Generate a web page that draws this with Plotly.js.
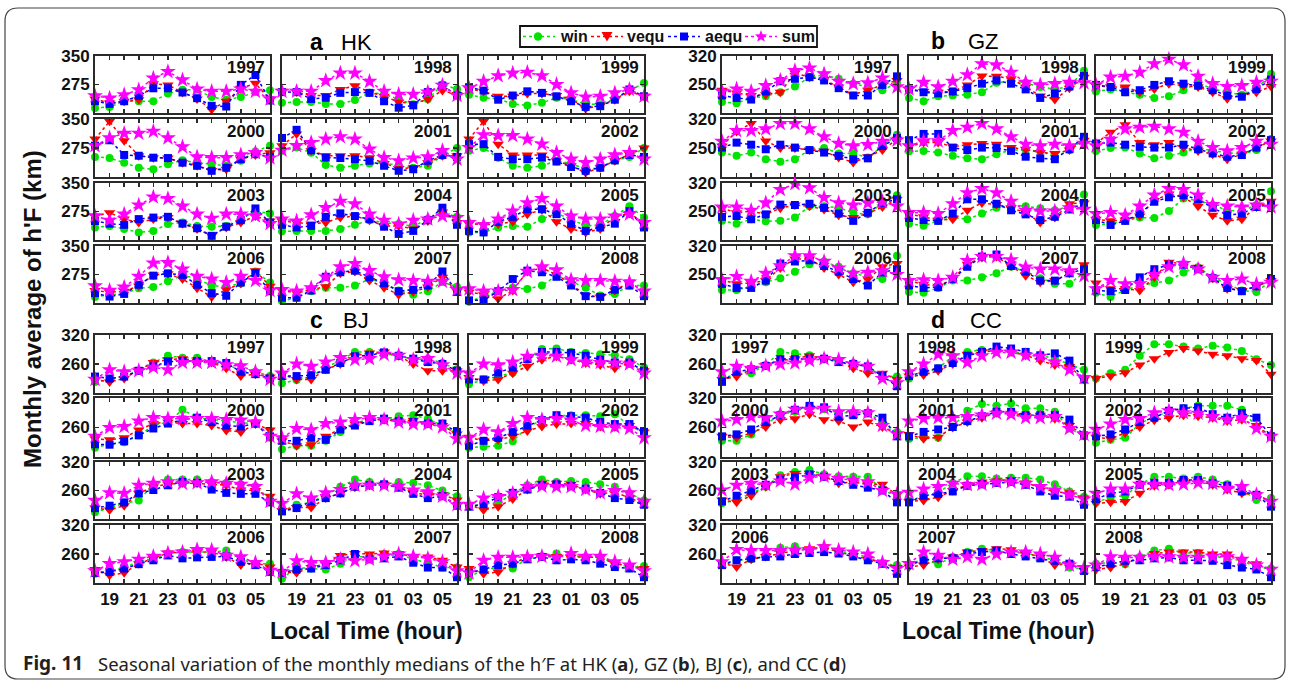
<!DOCTYPE html>
<html><head><meta charset="utf-8">
<script src="https://cdn.plot.ly/plotly-3.0.1.min.js"></script>
<style>html,body{margin:0;padding:0;background:#fff}#chart{width:1290px;height:680px}</style>
</head><body><div id="chart"></div>
<script>
// ---------------- DATA ----------------
const hours = [18,19,20,21,22,23,24,25,26,27,28,29,30];   // 18 LT ... 06 LT next day
const hourTickVals = [19,21,23,25,27,29];
const hourTickText = ['19','21','23','01','03','05'];
const years = [1997,1998,1999,2000,2001,2002,2003,2004,2005,2006,2007,2008];
const seasonNames = ['win','vequ','aequ','sum'];

// HK (a)
const HK_win = [
[213,216,231,231,231,251,261,261,242,235,242,255,260],
[227,229,229,224,224,234,253,250,236,223,236,275,263],
[248,240,237,224,220,227,240,236,223,223,237,259,279],
[252,249,237,224,220,233,243,237,233,229,242,266,281],
[268,276,263,231,224,229,235,237,229,224,229,255,275],
[268,275,250,229,224,229,242,235,220,224,242,252,275],
[233,237,229,220,224,242,246,237,235,237,255,276,270],
[223,224,224,224,229,240,252,246,242,237,255,272,261],
[220,220,233,237,235,255,270,255,237,240,263,289,259],
[216,222,224,239,242,257,272,265,245,244,251,283,254],
[205,214,231,240,240,246,263,252,233,222,231,255,243],
[203,218,231,240,237,246,272,257,240,220,224,246,246]];
const HK_vequ = [
[237,226,231,235,277,274,254,237,209,231,265,278,235],
[257,255,246,246,262,272,255,244,229,225,236,259,249],
[263,257,244,244,251,251,246,237,211,220,235,257,244],
[298,344,294,255,250,249,237,229,217,220,246,257,263],
[281,311,268,255,255,255,250,235,222,224,237,255,255],
[298,344,285,257,257,257,242,229,211,224,242,259,275],
[263,272,255,246,255,259,243,229,211,233,246,263,250],
[250,246,242,246,259,263,252,237,237,229,250,274,246],
[243,240,242,248,268,279,248,229,220,229,261,270,246],
[233,228,231,245,274,277,263,239,216,235,251,285,244],
[233,226,235,243,278,283,259,240,222,229,242,268,231],
[229,222,211,233,283,292,275,250,220,216,233,255,229]];
const HK_aequ = [
[231,224,231,245,265,265,254,239,219,217,274,300,233],
[255,255,237,240,253,255,253,231,214,220,255,272,246],
[268,259,235,246,257,253,244,231,216,218,235,262,244],
[281,295,257,255,250,249,237,229,216,224,246,259,252],
[301,322,269,250,249,246,242,229,216,220,242,257,252],
[285,285,252,246,246,250,240,226,216,224,243,257,252],
[250,243,240,255,259,261,243,231,211,235,252,283,246],
[240,233,237,261,270,263,255,235,216,224,252,285,240],
[224,220,248,261,281,281,268,243,224,233,243,276,233],
[226,217,224,248,272,278,274,248,226,219,254,278,231],
[214,214,233,269,281,285,268,252,231,235,246,283,229],
[207,207,231,263,285,281,269,246,218,216,235,246,218]];
const HK_sum = [
[245,239,248,261,292,309,287,263,257,257,263,257,237],
[257,257,257,285,305,305,283,257,249,249,255,273,246],
[266,283,298,305,307,298,275,253,242,244,253,262,244],
[281,301,313,313,318,301,278,252,250,250,257,263,249],
[269,281,289,298,304,298,272,250,242,249,252,268,246],
[276,309,307,307,298,285,263,246,237,246,257,263,246],
[263,252,268,292,313,309,289,268,257,268,268,263,243],
[255,250,266,285,302,295,268,252,242,252,255,263,259],
[246,240,255,276,298,309,289,263,255,255,263,268,246],
[245,233,242,270,305,306,289,270,263,254,270,259,233],
[235,231,240,268,295,304,285,269,261,259,257,257,235],
[237,231,231,235,283,295,287,261,259,259,257,255,231]];

// GZ (b)
const GZ_win = [
[207,204,217,221,231,245,268,274,264,252,244,236,254],
[217,209,221,223,225,231,254,260,254,244,239,245,284],
[233,238,231,225,217,221,236,254,239,231,225,239,276],
[239,231,239,223,217,223,245,250,237,237,227,255,282],
[242,243,239,231,225,223,235,245,245,243,229,245,272],
[243,250,251,237,225,231,239,251,243,239,235,245,272],
[227,220,231,226,227,235,263,263,259,247,243,271,290],
[220,215,227,235,231,245,259,267,263,258,253,263,292],
[217,220,227,235,234,251,282,277,266,253,251,266,300],
[212,212,221,231,241,257,275,282,269,253,245,239,296],
[207,205,217,235,235,243,253,269,257,241,227,227,255],
[205,195,212,223,229,235,255,268,243,226,211,207,235]];
const GZ_vequ = [
[236,229,223,225,231,278,268,262,244,225,236,249,260],
[239,233,231,233,249,271,270,264,244,222,213,241,268],
[247,244,244,231,239,252,247,244,231,215,223,231,245],
[255,290,309,267,250,250,245,242,227,215,229,245,271],
[253,263,263,253,258,261,259,251,247,239,237,245,269],
[261,288,306,263,258,263,251,243,235,223,235,251,267],
[258,247,251,243,258,266,263,255,241,235,245,261,280],
[243,237,229,231,253,271,267,259,247,223,235,269,271],
[231,227,229,239,277,293,285,263,241,227,231,261,275],
[237,227,229,235,266,288,288,266,250,231,239,269,277],
[234,226,221,239,275,292,294,271,247,231,235,253,274],
[229,215,215,211,243,280,277,268,241,215,211,221,235]];
const GZ_aequ = [
[223,217,213,233,258,264,268,260,241,223,223,249,270],
[238,231,228,233,241,252,260,252,238,217,228,245,271],
[249,244,231,236,249,258,252,247,236,223,220,239,262],
[251,263,258,247,258,251,245,239,231,223,225,255,274],
[269,284,284,251,245,251,250,243,229,225,223,247,277],
[261,263,258,253,251,251,258,247,237,229,233,251,269],
[237,239,231,243,267,266,269,259,245,227,247,271,280],
[234,229,227,245,280,280,269,253,243,229,237,255,271],
[229,217,227,245,274,285,290,280,259,241,245,261,267],
[227,217,217,235,277,282,285,271,257,239,223,255,263],
[223,217,219,239,269,294,299,271,257,235,235,253,263],
[211,209,212,243,263,274,274,263,241,217,209,221,239]];
const GZ_sum = [
[233,239,233,247,260,284,290,276,258,252,254,266,244],
[239,255,244,258,274,301,298,280,255,249,252,255,254],
[249,268,270,280,301,312,298,270,252,245,247,255,258],
[266,292,292,296,309,309,296,277,261,255,258,266,269],
[255,267,267,292,300,309,296,277,259,255,259,255,261],
[255,271,296,300,302,296,288,266,251,243,251,266,259],
[261,261,253,271,304,318,308,284,271,266,271,274,263],
[247,247,245,269,296,306,296,275,253,251,251,259,255],
[245,247,241,263,290,306,304,290,267,263,261,266,261],
[237,245,233,253,271,296,296,282,266,253,255,259,250],
[235,237,235,243,284,294,294,286,268,263,263,259,247],
[215,235,227,227,250,269,277,263,243,235,239,226,231]];

// BJ (c)
const BJ_win = [
[223,228,235,246,263,277,273,273,265,260,246,244,235],
[220,227,234,253,267,285,285,280,278,269,271,262,249],
[218,228,234,242,269,291,292,285,283,280,278,270,253],
[219,226,230,244,264,271,296,280,276,273,269,267,239],
[216,223,223,233,251,268,278,276,283,285,278,264,247],
[219,221,223,232,261,275,283,285,285,283,287,264,249],
[214,223,233,239,273,283,283,283,278,276,273,269,240],
[217,230,235,251,268,283,278,273,278,276,271,260,248],
[226,233,233,254,271,283,278,280,278,273,268,254,239],
[219,225,232,244,251,261,264,264,264,267,249,240,240],
[209,232,230,228,240,254,255,260,260,249,242,232,232],
[212,228,232,230,251,255,261,255,254,253,240,233,235]];
const BJ_vequ = [
[228,223,230,248,263,269,271,266,263,251,235,239,233],
[239,228,228,249,260,277,283,285,277,260,246,246,246],
[232,225,228,241,255,269,276,269,262,258,251,262,246],
[237,235,239,255,268,271,268,268,264,254,251,267,255],
[233,223,225,242,258,267,275,276,273,275,268,264,247],
[240,233,235,242,253,262,267,268,268,262,261,264,251],
[223,219,228,254,268,273,276,275,273,271,261,260,248],
[218,224,224,244,254,267,271,273,268,255,251,251,240],
[230,219,226,242,262,275,275,273,262,253,257,244,233],
[228,216,221,240,251,262,264,264,264,254,237,242,233],
[223,221,232,240,257,261,260,262,261,254,254,247,233],
[230,219,223,240,254,257,255,254,254,253,240,235,230]];
const BJ_aequ = [
[234,230,234,246,255,265,266,266,266,262,244,239,230],
[235,235,237,248,262,276,278,284,277,271,264,260,246],
[228,228,242,253,270,285,285,283,277,269,263,263,246],
[226,225,232,244,258,268,276,280,271,264,262,268,242],
[233,233,239,235,256,264,273,278,273,271,268,268,251],
[223,233,239,251,264,275,285,283,280,271,267,267,251],
[223,228,235,254,261,271,278,276,262,255,253,253,235],
[216,223,237,244,254,268,271,273,266,253,244,248,228],
[226,231,246,255,262,271,273,269,264,255,244,240,230],
[221,223,230,239,247,257,251,253,254,255,244,237,223],
[221,228,230,237,247,260,249,251,255,242,232,232,212],
[221,228,237,240,249,254,247,249,247,240,233,230,212]];
const BJ_sum = [
[228,248,244,246,253,248,263,263,263,258,256,244,228],
[241,260,255,264,273,269,271,280,278,269,271,258,241],
[241,260,258,264,276,278,276,269,264,263,262,260,241],
[242,260,262,273,280,278,278,278,278,276,275,271,242],
[239,258,255,268,271,276,280,276,271,267,267,261,237],
[239,256,251,268,280,276,278,275,264,262,261,258,239],
[239,255,254,271,275,278,275,276,278,275,273,268,237],
[233,253,244,255,262,271,271,271,269,261,257,248,230],
[231,244,247,254,268,269,268,268,262,255,260,255,237],
[225,240,244,249,255,262,264,269,268,257,254,242,226],
[223,246,242,242,249,246,249,255,260,255,251,244,225],
[221,247,253,253,254,255,253,261,255,255,244,237,225]];

// CC (d)
const N13 = [null,null,null,null,null,null,null,null,null,null,null,null,null];
const CC_win = [
[230,239,241,258,285,282,278,271,267,262,253,235,234],
[230,242,251,276,285,289,289,287,280,278,271,260,248],
[230,241,248,277,301,301,296,292,298,294,287,270,258],
[233,233,246,267,287,292,303,297,290,290,289,271,251],
[237,240,239,262,294,308,304,309,299,299,292,258,242],
[229,235,239,268,282,292,299,304,304,304,296,262,244],
[233,240,254,268,292,299,303,294,290,289,289,262,247],
[239,247,256,276,290,290,285,287,287,283,273,258,247],
[235,246,249,273,289,289,285,289,283,273,262,240,244],
[240,247,249,255,273,276,268,273,264,260,254,240,237],
[239,249,239,254,264,271,267,262,262,254,247,232,230],
[240,242,239,254,267,271,262,262,257,249,247,232,230]];
const CC_vequ = [
[228,234,249,258,267,271,277,271,269,251,241,241,228],
[235,237,246,260,280,285,287,285,278,267,258,255,228],
[230,235,242,258,271,284,292,287,280,277,271,267,239],
[242,239,249,261,276,278,287,276,273,261,271,261,247],
[246,237,240,260,271,280,290,289,285,285,278,264,244],
[240,237,249,261,275,280,285,283,280,273,276,264,242],
[240,235,249,268,289,296,296,290,275,278,273,273,251],
[237,239,246,260,272,278,280,283,276,266,257,255,244],
[233,235,237,254,270,272,280,280,272,262,254,251,237],
[242,233,249,255,262,267,271,275,264,257,249,242,232],
[233,237,249,254,264,267,271,269,261,254,237,240,232],
[228,232,240,253,261,264,264,264,260,260,247,240,228]];
const CC_aequ = [
[223,244,249,256,270,270,271,271,264,260,255,235,214],
[235,244,251,262,277,285,296,292,285,278,282,267,228],
N13,
[242,246,256,271,285,296,304,301,282,285,289,280,242],
[242,251,256,261,273,283,292,292,285,285,285,276,244],
[242,246,256,271,280,294,299,301,287,280,289,280,242],
[237,249,260,272,282,287,294,289,280,272,266,260,235],
[235,249,253,258,270,273,276,278,272,258,249,247,230],
[242,254,258,272,276,276,282,282,275,270,258,251,226],
[237,247,251,254,255,260,262,264,261,255,247,240,219],
[237,247,251,251,261,264,267,260,255,251,246,240,225],
[233,240,246,247,251,253,247,247,246,237,232,228,212]];
const CC_sum = [
[244,255,251,256,260,262,267,271,269,260,255,230,221],
[244,260,280,277,263,277,284,284,278,276,264,248,232],
N13,
[273,276,282,280,287,297,297,299,292,292,290,264,247],
[273,278,280,280,282,285,289,287,280,280,282,258,246],
[256,267,276,278,290,294,290,289,282,276,280,258,242],
[261,271,275,272,280,273,287,290,285,282,278,260,253],
[256,263,268,275,272,273,278,278,275,268,261,251,242],
[254,263,263,273,273,272,273,276,275,264,268,251,237],
[244,269,267,267,267,268,269,275,268,264,260,242,230],
[240,264,257,249,254,249,260,264,264,260,253,237,232],
[237,254,253,253,255,254,253,253,255,254,249,237,228]];

// ---------------- LAYOUT / STYLE ----------------
const W = 1290, H = 680;
const fx = x => x / W, fy = y => 1 - y / H;
const FONT = 'Liberation Sans, Arial, Helvetica, sans-serif';
const AX = '#2a2a2a';

const colsL = [[95,270],[282,457],[469,644]];
const colsR = [[722,897],[909,1084],[1096,1271]];
const rowsT = [[56,113],[119,177],[183,240],[246,303]];
const rowsB = [[335,393],[398,457],[462,519],[525,583]];

const stations = [
  {label:'a', name:'HK', series:[HK_win,HK_vequ,HK_aequ,HK_sum], yRange:[200,350], yTicks:[275,350], cols:colsL, rows:rowsT, yearSide:'right', xLabels:false, lab:[316,339,42]},
  {label:'b', name:'GZ', series:[GZ_win,GZ_vequ,GZ_aequ,GZ_sum], yRange:[180,320], yTicks:[250,320], cols:colsR, rows:rowsT, yearSide:'right', xLabels:false, lab:[938,966,41]},
  {label:'c', name:'BJ', series:[BJ_win,BJ_vequ,BJ_aequ,BJ_sum], yRange:[200,320], yTicks:[260,320], cols:colsL, rows:rowsB, yearSide:'right', xLabels:true, lab:[316,341,320]},
  {label:'d', name:'CC', series:[CC_win,CC_vequ,CC_aequ,CC_sum], yRange:[200,320], yTicks:[260,320], cols:colsR, rows:rowsB, yearSide:'left', xLabels:true, lab:[938,968,320]}
];

const styles = [
  {color:'#00e400', symbol:'circle', size:8},
  {color:'#ff0000', symbol:'triangle-down', size:10},
  {color:'#0000ff', symbol:'square', size:8},
  {color:'#ff00ff', symbol:'star', size:12}
];

const xTickTextFull = hours.map(h => { const i = hourTickVals.indexOf(h); return i >= 0 ? hourTickText[i] : ''; });

const traces = [];
const layout = {
  width: W, height: H, margin:{l:0,r:0,t:0,b:0},
  paper_bgcolor:'#fff', plot_bgcolor:'#fff',
  showlegend:false,
  annotations:[], shapes:[]
};

let n = 0;
stations.forEach(st => {
  years.forEach((yr, yi) => {
    const r = Math.floor(yi / 3), c = yi % 3;
    n++;
    const sx = n === 1 ? '' : String(n);
    const [x0, x1] = st.cols[c], [y0, y1] = st.rows[r];
    layout['xaxis' + sx] = {
      domain:[fx(x0), fx(x1)], range:[18,30], anchor:'y' + sx,
      tickmode:'array', tickvals:hours, ticktext: (r === 3 && st.xLabels) ? xTickTextFull : hours.map(() => ''),
      ticks:'inside', ticklen:4, tickwidth:1.5, tickcolor:AX, mirror:'allticks',
      showline:true, linecolor:AX, linewidth:2, showgrid:false, zeroline:false,
      tickfont:{family:FONT, size:17, color:'#111', weight:'bold'}, fixedrange:true
    };
    layout['yaxis' + sx] = {
      domain:[fy(y1), fy(y0)], range:st.yRange, anchor:'x' + sx,
      tickmode:'array', tickvals:st.yTicks, showticklabels: c === 0,
      ticks:'inside', ticklen:4, tickwidth:1.5, tickcolor:AX, mirror:'allticks',
      showline:true, linecolor:AX, linewidth:2, showgrid:false, zeroline:false,
      tickfont:{family:FONT, size:17, color:'#111', weight:'bold'}, fixedrange:true
    };
    st.series.forEach((ser, si) => {
      const s = styles[si];
      traces.push({
        type:'scatter', mode:'lines+markers', x:hours, y:ser[yi],
        xaxis:'x' + sx, yaxis:'y' + sx, name:seasonNames[si],
        showlegend:false, cliponaxis:false,
        line:{color:s.color, width:1.5, dash:'dot'},
        marker:{color:s.color, symbol:s.symbol, size:s.size},
        hoverinfo:'skip'
      });
    });
    layout.annotations.push(st.yearSide === 'right'
      ? {text:String(yr), xref:'paper', yref:'paper', x:fx(x1 - 3), y:fy(y0 + 12), xanchor:'right', yanchor:'middle', showarrow:false, font:{family:FONT, size:17, color:'#111', weight:'bold'}}
      : {text:String(yr), xref:'paper', yref:'paper', x:fx(x0 + 7), y:fy(y0 + 12), xanchor:'left', yanchor:'middle', showarrow:false, font:{family:FONT, size:17, color:'#111', weight:'bold'}});
  });
  layout.annotations.push({text:st.label, xref:'paper', yref:'paper', x:fx(st.lab[0]), y:fy(st.lab[2]), xanchor:'center', yanchor:'middle', showarrow:false, font:{family:FONT, size:23, color:'#000', weight:'bold'}});
  layout.annotations.push({text:st.name, xref:'paper', yref:'paper', x:fx(st.lab[1]), y:fy(st.lab[2]), xanchor:'left', yanchor:'middle', showarrow:false, font:{family:FONT, size:22, color:'#000'}});
});

// ---- compact legend box (drawn as decoration) ----
(function(){
  const by0 = 26, by1 = 47, cy = 36.5;
  const P = (x, y) => fx(x).toFixed(5) + ',' + fy(y).toFixed(5);
  const poly = pts => 'M' + pts.map(p => P(p[0], p[1])).join(' L') + ' Z';
  layout.shapes.push({type:'rect', xref:'paper', yref:'paper', x0:fx(520), x1:fx(817), y0:fy(by1), y1:fy(by0), line:{color:'#111', width:1.8}, fillcolor:'#fff'});
  const items = [[523,555,538,558],[591,623,607,625],[668,700,684,703],[745,777,761,780]];
  items.forEach((it, i) => {
    const s = styles[i], [l0, l1, mx, tx] = it;
    layout.shapes.push({type:'line', xref:'paper', yref:'paper', x0:fx(l0), x1:fx(l1), y0:fy(cy), y1:fy(cy), line:{color:s.color, width:1.5, dash:'dot'}});
    if (s.symbol === 'circle') {
      layout.shapes.push({type:'circle', xref:'paper', yref:'paper', x0:fx(mx-4.2), x1:fx(mx+4.2), y0:fy(cy+4.2), y1:fy(cy-4.2), fillcolor:s.color, line:{width:0}});
    } else if (s.symbol === 'square') {
      layout.shapes.push({type:'rect', xref:'paper', yref:'paper', x0:fx(mx-4), x1:fx(mx+4), y0:fy(cy+4), y1:fy(cy-4), fillcolor:s.color, line:{width:0}});
    } else if (s.symbol === 'triangle-down') {
      layout.shapes.push({type:'path', xref:'paper', yref:'paper', path:poly([[mx-5.5,cy-4.5],[mx+5.5,cy-4.5],[mx,cy+5]]), fillcolor:s.color, line:{width:0}});
    } else {
      const pts = [];
      for (let k = 0; k < 10; k++) {
        const rad = k % 2 === 0 ? 6.5 : 2.7, a = -Math.PI / 2 + k * Math.PI / 5;
        pts.push([mx + rad * Math.cos(a), cy + rad * Math.sin(a)]);
      }
      layout.shapes.push({type:'path', xref:'paper', yref:'paper', path:poly(pts), fillcolor:s.color, line:{width:0}});
    }
    layout.annotations.push({text:seasonNames[i], xref:'paper', yref:'paper', x:fx(tx), y:fy(cy), xanchor:'left', yanchor:'middle', showarrow:false, font:{family:FONT, size:16, color:'#111', weight:'bold'}});
  });
})();

// axis titles
layout.annotations.push({text:'Local Time (hour)', xref:'paper', yref:'paper', x:fx(366), y:fy(631), xanchor:'center', yanchor:'middle', showarrow:false, font:{family:FONT, size:23, color:'#111', weight:'bold'}});
layout.annotations.push({text:'Local Time (hour)', xref:'paper', yref:'paper', x:fx(998), y:fy(631), xanchor:'center', yanchor:'middle', showarrow:false, font:{family:FONT, size:23, color:'#111', weight:'bold'}});
layout.annotations.push({text:"Monthly average of h'F (km)", xref:'paper', yref:'paper', x:fx(33), y:fy(309), xanchor:'center', yanchor:'middle', textangle:-90, showarrow:false, font:{family:FONT, size:24, color:'#111', weight:'bold'}});

// caption
const CAP = 'Noto Sans, Open Sans, sans-serif';
layout.annotations.push({text:'<b>Fig. 11</b>', xref:'paper', yref:'paper', x:fx(21), y:fy(663), xanchor:'left', yanchor:'middle', showarrow:false, font:{family:CAP, size:19, color:'#231f20'}});
layout.annotations.push({text:'Seasonal variation of the monthly medians of the h\u2032F at HK (<b>a</b>), GZ (<b>b</b>), BJ (<b>c</b>), and CC (<b>d</b>)', xref:'paper', yref:'paper', x:fx(96), y:fy(663), xanchor:'left', yanchor:'middle', showarrow:false, font:{family:CAP, size:18.5, color:'#231f20'}});

// rounded frame
(function(){
  const x0 = 5, x1 = 1285, y0 = 8, y1 = 679, r = 13;
  const P = (x, y) => fx(x).toFixed(5) + ',' + fy(y).toFixed(5);
  const path = 'M' + P(x0 + r, y0) + ' L' + P(x1 - r, y0) + ' Q' + P(x1, y0) + ' ' + P(x1, y0 + r) +
    ' L' + P(x1, y1 - r) + ' Q' + P(x1, y1) + ' ' + P(x1 - r, y1) +
    ' L' + P(x0 + r, y1) + ' Q' + P(x0, y1) + ' ' + P(x0, y1 - r) +
    ' L' + P(x0, y0 + r) + ' Q' + P(x0, y0) + ' ' + P(x0 + r, y0) + ' Z';
  layout.shapes.push({type:'path', xref:'paper', yref:'paper', path:path, line:{color:'#444', width:1.2}, fillcolor:'rgba(0,0,0,0)', layer:'below'});
})();

Plotly.newPlot('chart', traces, layout, {staticPlot:true, displayModeBar:false});
</script>
</body></html>
